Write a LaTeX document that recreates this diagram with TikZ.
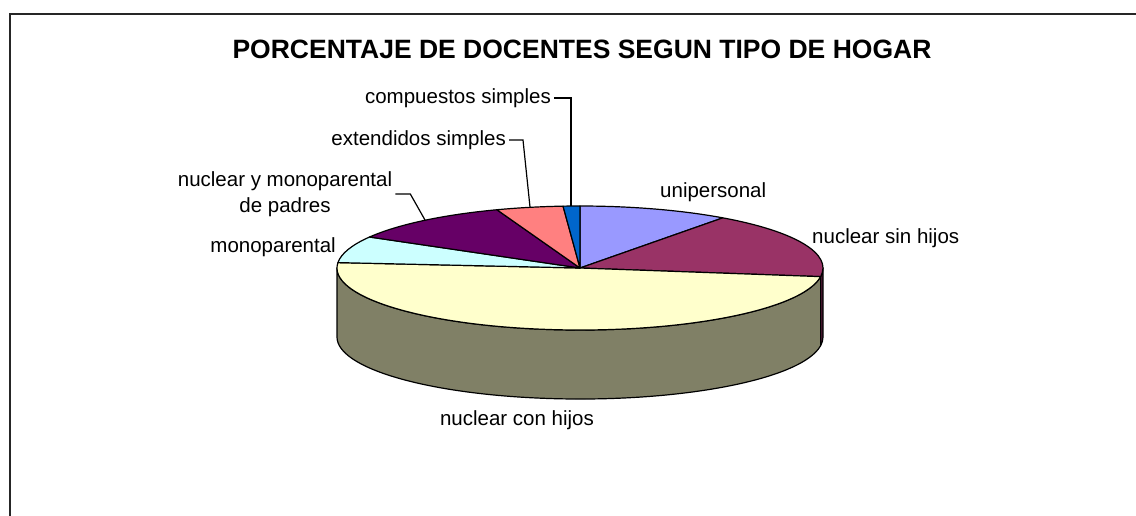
\documentclass[tikz,border=0pt]{standalone}
\usepackage{fontspec}
\setmainfont{Liberation Sans}
\definecolor{uniC}{HTML}{9999FF}
\definecolor{sinC}{HTML}{993366}
\definecolor{conC}{HTML}{FFFFCC}
\definecolor{monC}{HTML}{CCFFFF}
\definecolor{nymC}{HTML}{660066}
\definecolor{extC}{HTML}{FF8080}
\definecolor{comC}{HTML}{0066CC}
\tikzset{
  lbl/.style={inner sep=0pt, font=\fontsize{20.5}{26}\selectfont, text height=14.7pt, text depth=4.2pt},
  slice/.style={draw=black, line width=1.2pt, line join=round},
  lead/.style={draw=black, line width=1.2pt, shorten <=3pt}
}
\begin{document}
\begin{tikzpicture}[x=1pt, y=1pt]
  \useasboundingbox (0,0) rectangle (1136,-515);
  \draw[line width=2pt, black!85] (9.5,-520) -- (9.5,-14) -- (1140,-14);

  \node[inner sep=0pt, font=\bfseries\fontsize{26.5}{30}\selectfont] at (582,-49) (title) {PORCENTAJE DE DOCENTES SEGUN TIPO DE HOGAR};

  \coordinate (C) at (580,-268);

  \filldraw[slice, fill=conC!50!black] (C) ++(180:243pt and 62pt) arc[start angle=180, end angle=352, x radius=243pt, y radius=62pt] -- ++(0,-69) arc[start angle=352, end angle=180, x radius=243pt, y radius=62pt] -- cycle;
  \filldraw[slice, fill=sinC!50!black] (C) ++(352:243pt and 62pt) arc[start angle=352, end angle=360, x radius=243pt, y radius=62pt] -- ++(0,-69) arc[start angle=360, end angle=352, x radius=243pt, y radius=62pt] -- cycle;

  \foreach \a/\b/\c in {90/54/uniC, 54/-8/sinC, -8/-185/conC, 175/150/monC, 150/110/nymC, 110/94/extC, 94/90/comC}
    \filldraw[slice, fill=\c] (C) -- ++(\a:243pt and 62pt) arc[start angle=\a, end angle=\b, x radius=243pt, y radius=62pt] -- cycle;

  \coordinate (comTip) at (571,-206);
  \coordinate (extTip) at (530,-207);
  \coordinate (nymTip) at (425,-220);

  \node[lbl, anchor=east] at (551,-98)  (com) {compuestos simples};
  \node[lbl, anchor=east] at (506,-140) (ext) {extendidos simples};
  \node[inner sep=0pt, align=center, font=\fontsize{20.5}{26}\selectfont] at (285,-194) (nym) {nuclear y monoparental\\de padres};
  \node[lbl, anchor=east] at (336,-247) (mon) {monoparental};
  \node[lbl, anchor=west] at (660,-192) (uni) {unipersonal};
  \node[lbl, anchor=west] at (812,-238) (sin) {nuclear sin hijos};
  \node[lbl] at (517,-420) (con) {nuclear con hijos};

  \draw[lead] (com.east) -- ++(20,0) -- (comTip);
  \draw[lead] (ext.east) -- ++(17,0) -- (extTip);
  \draw[lead] (nym.east) -- ++(18,0) -- (nymTip);
\end{tikzpicture}
\end{document}
